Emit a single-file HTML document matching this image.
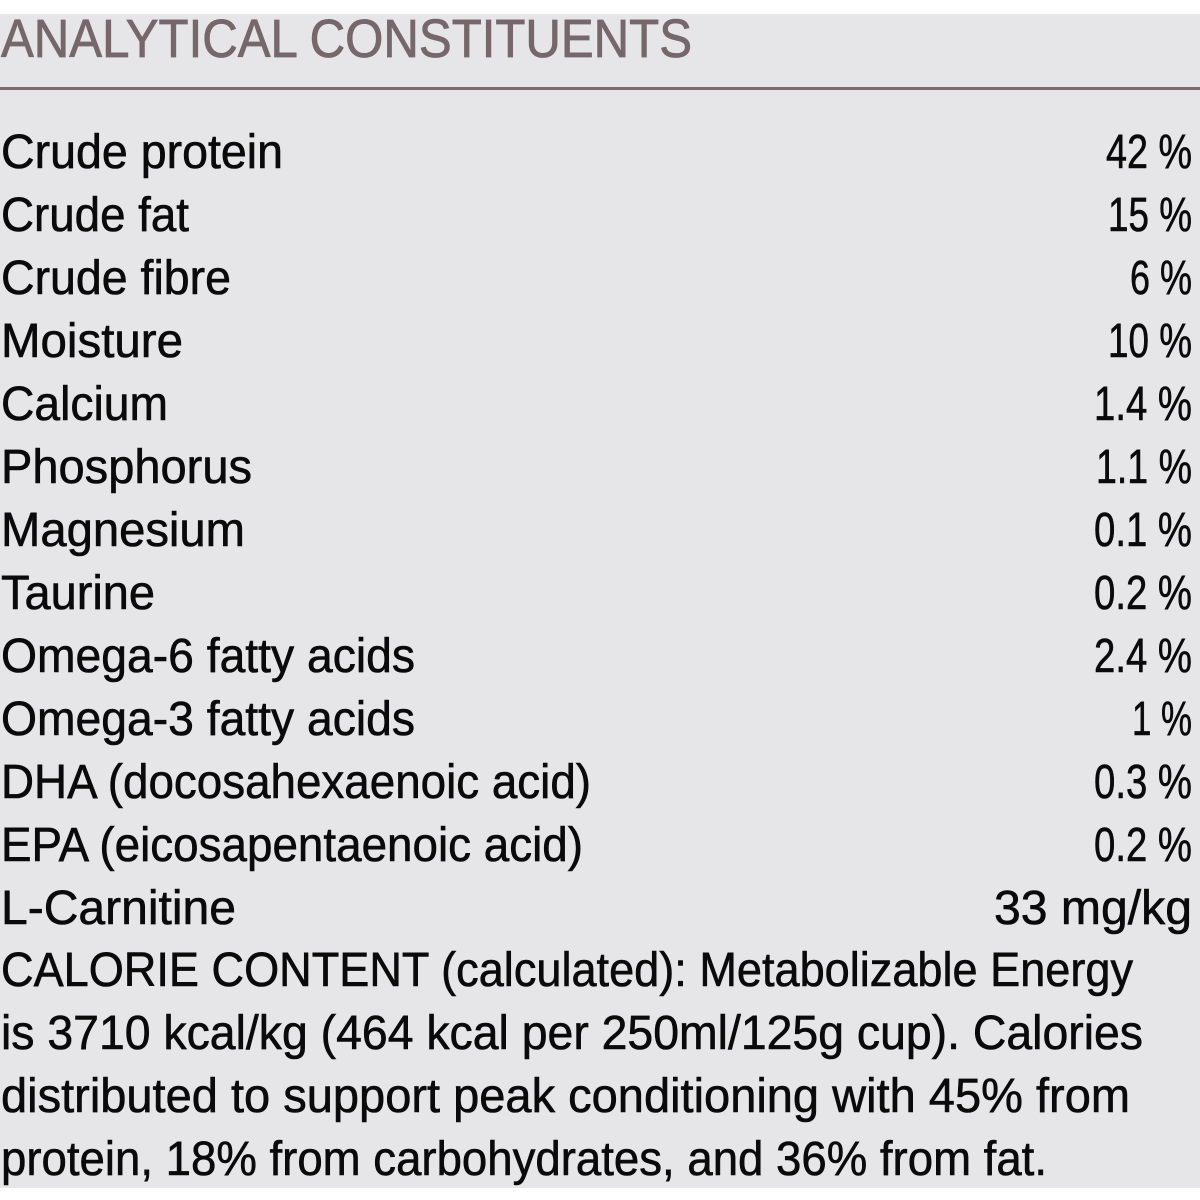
<!DOCTYPE html>
<html><head><meta charset="utf-8"><style>
html,body{margin:0;padding:0;background:#fff;}
svg{display:block;}
text{font-family:"Liberation Sans",sans-serif;}
</style></head><body>
<svg width="1200" height="1200" viewBox="0 0 1200 1200" xmlns="http://www.w3.org/2000/svg">
<rect x="0" y="14" width="1200" height="1174" fill="#e6e6e8"/>
<text x="1" y="57" font-size="54" fill="#76676a" stroke="#76676a" stroke-width="0.8" textLength="691" lengthAdjust="spacingAndGlyphs">ANALYTICAL CONSTITUENTS</text>
<rect x="0" y="87" width="1200" height="3" fill="#7a6a6c"/>
<g font-size="48" fill="#0a0a0a" stroke="#0a0a0a" stroke-width="0.6">
<text x="1" y="168" textLength="282" lengthAdjust="spacingAndGlyphs">Crude protein</text>
<text x="1" y="231" textLength="188" lengthAdjust="spacingAndGlyphs">Crude fat</text>
<text x="1" y="294" textLength="230" lengthAdjust="spacingAndGlyphs">Crude fibre</text>
<text x="1" y="357" textLength="182" lengthAdjust="spacingAndGlyphs">Moisture</text>
<text x="1" y="420" textLength="167" lengthAdjust="spacingAndGlyphs">Calcium</text>
<text x="1" y="483" textLength="251" lengthAdjust="spacingAndGlyphs">Phosphorus</text>
<text x="1" y="546" textLength="244" lengthAdjust="spacingAndGlyphs">Magnesium</text>
<text x="1" y="609" textLength="154" lengthAdjust="spacingAndGlyphs">Taurine</text>
<text x="1" y="672" textLength="414" lengthAdjust="spacingAndGlyphs">Omega-6 fatty acids</text>
<text x="1" y="735" textLength="414" lengthAdjust="spacingAndGlyphs">Omega-3 fatty acids</text>
<text x="1" y="798" textLength="590" lengthAdjust="spacingAndGlyphs">DHA (docosahexaenoic acid)</text>
<text x="1" y="861" textLength="582" lengthAdjust="spacingAndGlyphs">EPA (eicosapentaenoic acid)</text>
<text x="1" y="924" textLength="235" lengthAdjust="spacingAndGlyphs">L-Carnitine</text>

<text x="1106" y="168" textLength="86" lengthAdjust="spacingAndGlyphs">42 %</text>
<text x="1108" y="231" textLength="84" lengthAdjust="spacingAndGlyphs">15 %</text>
<text x="1130" y="294" textLength="62" lengthAdjust="spacingAndGlyphs">6 %</text>
<text x="1108" y="357" textLength="84" lengthAdjust="spacingAndGlyphs">10 %</text>
<text x="1094" y="420" textLength="98" lengthAdjust="spacingAndGlyphs">1.4 %</text>
<text x="1096" y="483" textLength="96" lengthAdjust="spacingAndGlyphs">1.1 %</text>
<text x="1094" y="546" textLength="98" lengthAdjust="spacingAndGlyphs">0.1 %</text>
<text x="1094" y="609" textLength="98" lengthAdjust="spacingAndGlyphs">0.2 %</text>
<text x="1094" y="672" textLength="98" lengthAdjust="spacingAndGlyphs">2.4 %</text>
<text x="1132" y="735" textLength="60" lengthAdjust="spacingAndGlyphs">1 %</text>
<text x="1094" y="798" textLength="98" lengthAdjust="spacingAndGlyphs">0.3 %</text>
<text x="1094" y="861" textLength="98" lengthAdjust="spacingAndGlyphs">0.2 %</text>
<text x="994" y="924" textLength="198" lengthAdjust="spacingAndGlyphs">33 mg/kg</text>

<text x="1" y="986" textLength="1132" lengthAdjust="spacingAndGlyphs">CALORIE CONTENT (calculated): Metabolizable Energy</text>
<text x="1" y="1049" textLength="1142" lengthAdjust="spacingAndGlyphs">is 3710 kcal/kg (464 kcal per 250ml/125g cup). Calories</text>
<text x="1" y="1112" textLength="1129" lengthAdjust="spacingAndGlyphs">distributed to support peak conditioning with 45% from</text>
<text x="1" y="1175" textLength="1046" lengthAdjust="spacingAndGlyphs">protein, 18% from carbohydrates, and 36% from fat.</text>
</g>
</svg>
</body></html>
